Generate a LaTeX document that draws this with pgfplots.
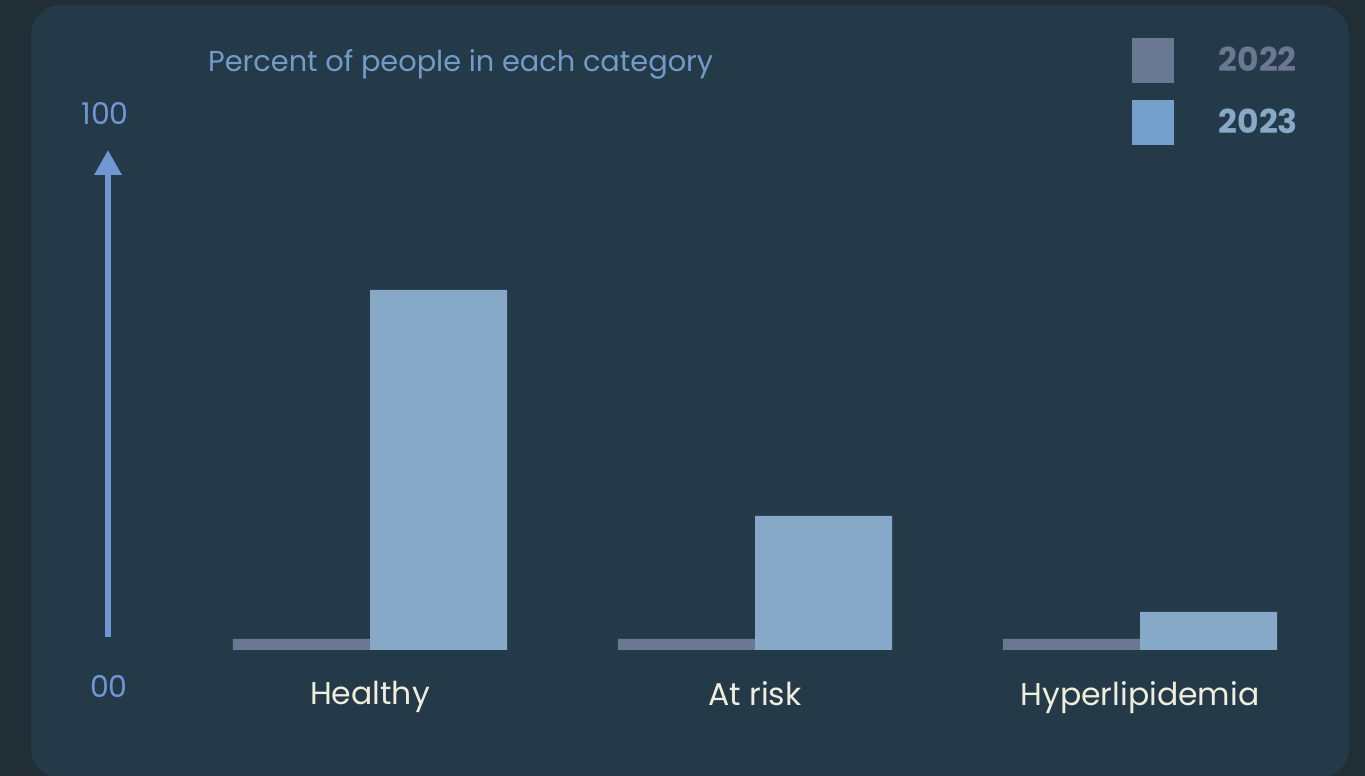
\documentclass[border=0pt]{standalone}
\usepackage{fontspec}
\setmainfont{Poppins}
\usepackage{pgfplots}
\pgfplotsset{compat=1.18}
\usetikzlibrary{arrows.meta}
\definecolor{outerbg}{HTML}{222E36}
\definecolor{panel}{HTML}{253A48}
\definecolor{cA}{HTML}{6B7891}
\definecolor{cB}{HTML}{87A9C8}
\definecolor{legB}{HTML}{76A0CC}
\definecolor{axc}{HTML}{7096D4}
\definecolor{ttl}{HTML}{729CC8}
\definecolor{catc}{HTML}{EEEEDD}
\begin{document}
\begin{tikzpicture}
\useasboundingbox (0pt,0pt) rectangle (1365pt,776pt);
\clip (0pt,0pt) rectangle (1365pt,776pt);
\fill[outerbg] (0pt,0pt) rectangle (1365pt,776pt);
\fill[panel, rounded corners=30pt] (31pt,-2pt) rectangle (1349pt,771pt);
\node[anchor=base west, inner sep=0pt, text=ttl, font=\fontsize{28.8}{34}\selectfont] at (208pt,704pt) {Percent of people in each category};
\begin{axis}[
  at={(100.5pt,126pt)}, anchor=south west,
  scale only axis, width=1232pt, height=500pt,
  xmin=-0.7, xmax=2.5, ymin=0, ymax=100,
  clip=false,
  axis line style={draw=none},
  major tick length=0pt,
  ytick=\empty,
  xtick={0,1,2},
  xticklabels={Healthy,At risk,Hyperlipidemia},
  xticklabel style={text=catc, font=\fontsize{31.5}{36}\selectfont, yshift=-28pt},
  ybar, bar width=137pt,
  legend cell align=left,
  legend style={at={(0.8373,1.224)}, anchor=north west, draw=none, fill=none,
    inner sep=0pt, row sep=17pt, font=\bfseries\fontsize{33}{36}\selectfont,
    /tikz/every odd column/.append style={column sep=43pt}},
]
\addplot[fill=cA, draw=none, bar shift=-68.5pt, forget plot] coordinates {(0,2.2) (1,2.2) (2,2.2)};
\addplot[fill=cB, draw=none, bar shift=68.5pt, forget plot] coordinates {(0,72) (1,26.8) (2,7.6)};
\addlegendimage{legend image code/.code={\fill[cA] (0pt,-22pt) rectangle (41pt,22pt);}}
\addlegendentry{\textcolor{cA}{2022}}
\addlegendimage{legend image code/.code={\fill[legB] (0pt,-22pt) rectangle (41pt,22pt);}}
\addlegendentry{\textcolor{cB}{2023}}
\draw[axc, line width=6pt, -{Triangle[width=26pt,length=25pt]}] (axis cs:-0.6805,2.6) -- (axis cs:-0.6805,100);
\node[text=axc, font=\fontsize{30}{36}\selectfont] at (axis cs:-0.688,107.4) {100};
\node[text=axc, font=\fontsize{30}{36}\selectfont] at (axis cs:-0.678,-7.2) {00};
\end{axis}
\end{tikzpicture}
\end{document}
